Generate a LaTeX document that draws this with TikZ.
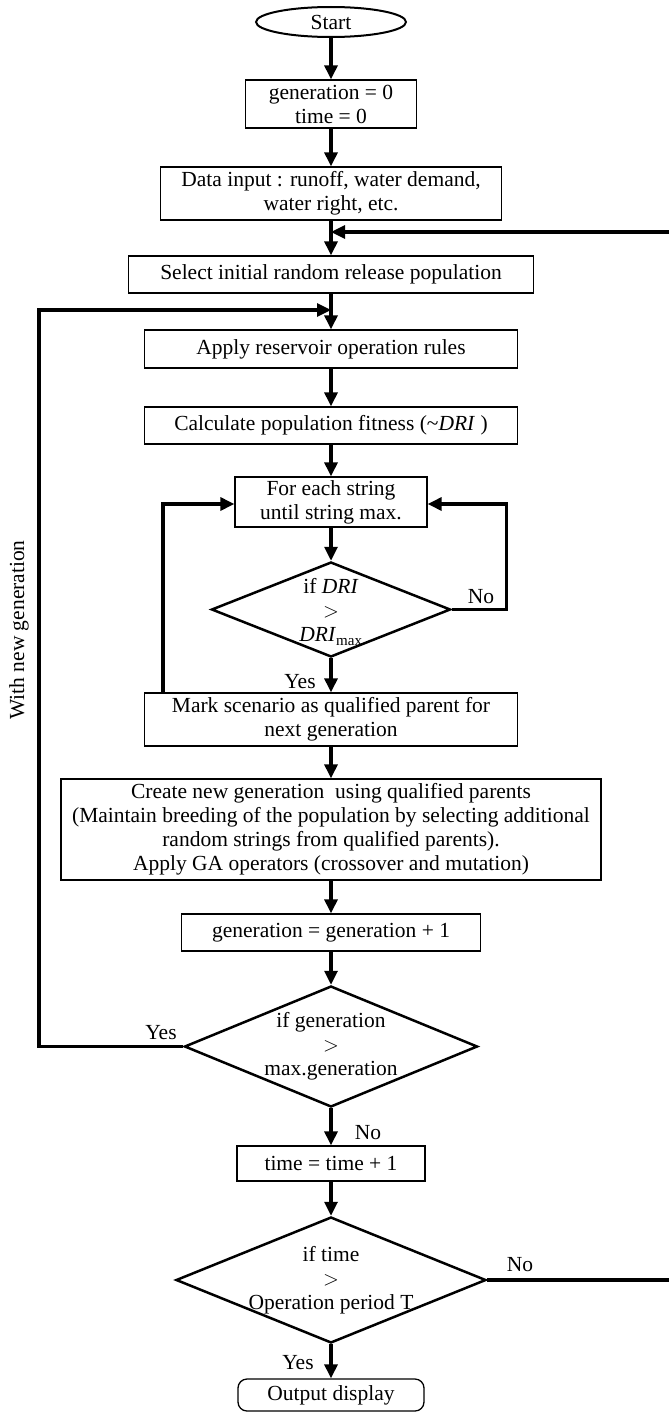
\documentclass[tikz,border=0pt]{standalone}
\usepackage{fontspec}
\setmainfont{Liberation Serif}
\usetikzlibrary{arrows.meta,shapes.geometric}
\tikzset{
  txt/.style={font=\fontsize{21.5}{24}\selectfont},
  box/.style={txt,draw,line width=1.3pt,rectangle,inner sep=0pt,align=center},
  term/.style={txt,draw,line width=2pt,ellipse,inner sep=0pt,align=center},
  decision/.style={draw,line width=2.5pt,diamond,inner sep=0pt},
  dtext/.style={txt,align=center,inner sep=0pt},
  arr/.style={line width=3.2pt,-{Triangle[length=14pt,width=13pt]}},
  line/.style={line width=3.2pt},
  lbl/.style={txt,inner sep=0pt}
}
\begin{document}
\begin{tikzpicture}[x=1pt,y=-1pt]
\useasboundingbox (0,0) rectangle (669,1413);
\node[term,minimum width=150pt,minimum height=30pt] (start) at (331,22) {Start};
\node[box,minimum width=171pt,minimum height=48pt] (gen) at (331,104) {generation = 0\\time = 0};
\node[box,minimum width=341pt,minimum height=53pt] (data) at (331,193.5) {Data input : runoff, water demand,\\water right, etc.};
\node[box,minimum width=405pt,minimum height=37pt] (sel) at (331,274.5) {Select initial random release population};
\node[box,minimum width=373pt,minimum height=38pt] (apply) at (331,349) {Apply reservoir operation rules};
\node[box,minimum width=373pt,minimum height=37pt] (calc) at (331,425.5) {Calculate population fitness (\textasciitilde\textit{DRI} )};
\node[box,minimum width=192pt,minimum height=50pt] (each) at (331,502) {For each string\\until string max.};
\node[decision,minimum width=239pt,minimum height=95pt] (d1) at (331,609.5) {};
\node[dtext] (d1t) at (331,612) {if \textit{DRI}\\$>$\\\textit{DRI}\textsubscript{max}};
\node[box,minimum width=373pt,minimum height=53pt] (mark) at (331,719.5) {Mark scenario as qualified parent for\\next generation};
\node[box,minimum width=540pt,minimum height=101pt] (create) at (331,829.5) {Create new generation\ \ using qualified parents\\(Maintain breeding of the population by selecting additional\\random strings from qualified parents).\\Apply GA operators (crossover and mutation)};
\node[box,minimum width=299pt,minimum height=37pt] (inc) at (331,932.5) {generation = generation + 1};
\node[decision,minimum width=293pt,minimum height=121pt] (d2) at (331,1046.5) {};
\node[dtext] (d2t) at (331,1046.5) {if generation\\$>$\\max.generation};
\node[box,minimum width=188pt,minimum height=35pt] (time) at (331,1163.5) {time = time + 1};
\node[decision,minimum width=310pt,minimum height=126pt] (d3) at (331,1280) {};
\node[dtext] (d3t) at (331,1280) {if time\\$>$\\Operation period T};
\node[box,rounded corners=9pt,minimum width=186pt,minimum height=32pt] (out) at (331,1395) {Output display};

\coordinate (j1) at (331,310);
\coordinate (j2) at (331,232);
\coordinate (lx) at (39,0);
\coordinate (rx) at (672,0);

\draw[arr] (start) -- (gen);
\draw[arr] (gen) -- (data);
\draw[arr] (data) -- (sel);
\draw[arr] (sel) -- (apply);
\draw[arr] (apply) -- (calc);
\draw[arr] (calc) -- (each);
\draw[arr] (each) -- (d1);
\draw[arr] (d1) -- (mark);
\draw[arr] (mark) -- (create);
\draw[arr] (create) -- (inc);
\draw[arr] (inc) -- (d2);
\draw[arr] (d2) -- (time);
\draw[arr] (time) -- (d3);
\draw[arr] (d3) -- (out);

\draw[arr] (d1.east) -- ++(55,0) |- ([yshift=-2pt]each.east);
\draw[arr] ([xshift=-168pt]mark.north) |- ([yshift=-2pt]each.west);
\draw[arr] (d2.west) -- (d2.west -| lx) |- (j1);
\draw[arr] (d3.east) -- (d3.east -| rx) |- (j2);

\node[lbl] (l1) at (481,597) {No};
\node[lbl] (l2) at (300,682) {Yes};
\node[lbl] (l3) at (161,1033) {Yes};
\node[lbl] (l4) at (368,1133) {No};
\node[lbl] (l5) at (520,1265) {No};
\node[lbl] (l6) at (298,1363) {Yes};
\node[lbl,rotate=90] (l7) at (19,630) {With new generation};
\end{tikzpicture}
\end{document}
